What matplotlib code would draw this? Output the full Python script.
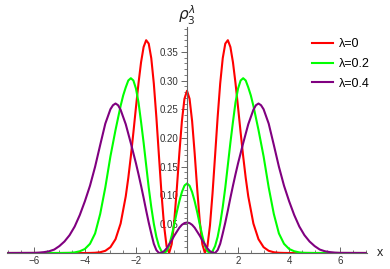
import matplotlib
matplotlib.use("Agg")
import matplotlib.pyplot as plt
from matplotlib.ticker import FixedLocator, MultipleLocator

# lambda = 0
x_red = [-7.0, -4.0, -3.8, -3.6, -3.4, -3.2, -3.0, -2.8, -2.6, -2.4, -2.3, -2.2, -2.1,
         -2.0, -1.9, -1.8, -1.7, -1.6, -1.5, -1.4, -1.3, -1.2, -1.1, -1.0, -0.9, -0.8,
         -0.7, -0.6, -0.5, -0.4, -0.3, -0.2, -0.1, 0.0, 0.1, 0.2, 0.3, 0.4, 0.5, 0.6,
         0.7, 0.8, 0.9, 1.0, 1.1, 1.2, 1.3, 1.4, 1.5, 1.6, 1.7, 1.8, 1.9, 2.0, 2.1,
         2.2, 2.3, 2.4, 2.6, 2.8, 3.0, 3.2, 3.4, 3.6, 3.8, 4.0, 7.0]
rho_red = [0.0, 0.0, 0.0001, 0.0004, 0.0013, 0.0038, 0.0101, 0.0240, 0.0513, 0.0984,
           0.1305, 0.1681, 0.2097, 0.2532, 0.2952, 0.3317, 0.3582, 0.3701, 0.3642,
           0.3389, 0.2948, 0.2362, 0.1696, 0.1038, 0.0482, 0.0117, 0.0001, 0.0154,
           0.0549, 0.1112, 0.1734, 0.2294, 0.2682, 0.2821, 0.2682, 0.2294, 0.1734,
           0.1112, 0.0549, 0.0154, 0.0001, 0.0117, 0.0482, 0.1038, 0.1696, 0.2362,
           0.2948, 0.3389, 0.3642, 0.3701, 0.3582, 0.3317, 0.2952, 0.2532, 0.2097,
           0.1681, 0.1305, 0.0984, 0.0513, 0.0240, 0.0101, 0.0038, 0.0013, 0.0004,
           0.0001, 0.0, 0.0]

# lambda = 0.2
x_green = [-7.0, -5.0, -4.6, -4.4, -4.2, -4.0, -3.8, -3.6, -3.4, -3.2, -3.0, -2.8, -2.6,
           -2.5, -2.4, -2.3, -2.2, -2.1, -2.0, -1.9, -1.8, -1.7, -1.6, -1.5, -1.4, -1.3,
           -1.2, -1.1, -1.0, -0.9, -0.8, -0.7, -0.6, -0.5, -0.4, -0.3, -0.2, -0.1, 0.0,
           0.1, 0.2, 0.3, 0.4, 0.5, 0.6, 0.7, 0.8, 0.9, 1.0, 1.1, 1.2, 1.3, 1.4, 1.5,
           1.6, 1.7, 1.8, 1.9, 2.0, 2.1, 2.2, 2.3, 2.4, 2.5, 2.6, 2.8, 3.0, 3.2, 3.4,
           3.6, 3.8, 4.0, 4.2, 4.4, 4.6, 5.0, 7.0]
rho_green = [0.0, 0.0, 0.0003, 0.001, 0.003, 0.007, 0.016, 0.034, 0.068, 0.114, 0.168,
             0.214, 0.256, 0.274, 0.288, 0.300, 0.304, 0.300, 0.286, 0.262, 0.228, 0.192,
             0.153, 0.114, 0.080, 0.051, 0.028, 0.012, 0.003, 0.0, 0.003, 0.013, 0.030,
             0.050, 0.071, 0.090, 0.106, 0.117, 0.121, 0.117, 0.106, 0.090, 0.071, 0.050,
             0.030, 0.013, 0.003, 0.0, 0.003, 0.012, 0.028, 0.051, 0.080, 0.114, 0.153,
             0.192, 0.228, 0.262, 0.286, 0.300, 0.304, 0.300, 0.288, 0.274, 0.256, 0.214,
             0.168, 0.114, 0.068, 0.034, 0.016, 0.007, 0.003, 0.001, 0.0003, 0.0, 0.0]

# lambda = 0.4
x_purple = [-7.0, -6.0, -5.8, -5.6, -5.4, -5.2, -5.0, -4.8, -4.6, -4.4, -4.2, -4.0, -3.8,
            -3.6, -3.4, -3.2, -3.0, -2.9, -2.8, -2.7, -2.6, -2.4, -2.2, -2.0, -1.9, -1.8,
            -1.7, -1.6, -1.5, -1.4, -1.3, -1.2, -1.1, -1.0, -0.9, -0.8, -0.7, -0.6, -0.5,
            -0.4, -0.3, -0.2, -0.1, 0.0, 0.1, 0.2, 0.3, 0.4, 0.5, 0.6, 0.7, 0.8, 0.9, 1.0,
            1.1, 1.2, 1.3, 1.4, 1.5, 1.6, 1.7, 1.8, 1.9, 2.0, 2.2, 2.4, 2.6, 2.7, 2.8, 2.9,
            3.0, 3.2, 3.4, 3.6, 3.8, 4.0, 4.2, 4.4, 4.6, 4.8, 5.0, 5.2, 5.4, 5.6, 5.8, 6.0,
            7.0]
rho_purple = [0.0, 0.0002, 0.0006, 0.0015, 0.003, 0.006, 0.012, 0.020, 0.031, 0.046,
              0.066, 0.090, 0.117, 0.150, 0.188, 0.225, 0.250, 0.257, 0.260, 0.257, 0.249,
              0.224, 0.191, 0.156, 0.137, 0.117, 0.096, 0.074, 0.053, 0.034, 0.016, 0.005,
              0.0, 0.0007, 0.003, 0.008, 0.015, 0.022, 0.030, 0.037, 0.044, 0.049, 0.052,
              0.053, 0.052, 0.049, 0.044, 0.037, 0.030, 0.022, 0.015, 0.008, 0.003, 0.0007,
              0.0, 0.005, 0.016, 0.034, 0.053, 0.074, 0.096, 0.117, 0.137, 0.156, 0.191,
              0.224, 0.249, 0.257, 0.260, 0.257, 0.250, 0.225, 0.188, 0.150, 0.117, 0.090,
              0.066, 0.046, 0.031, 0.020, 0.012, 0.006, 0.003, 0.0015, 0.0006, 0.0002, 0.0]

labels = ["λ=0", "λ=0.2", "λ=0.4"]
x_ticks = [-6, -4, -2, 2, 4, 6]
y_ticks = [0.05, 0.10, 0.15, 0.20, 0.25, 0.30, 0.35]

plt.rcParams["font.family"] = ["Liberation Sans", "DejaVu Sans"]

fig = plt.figure(figsize=(3.9, 2.69), dpi=100)
ax = fig.add_axes([0.018, 0.0595, 0.923, 0.840])

ax.plot(x_red, rho_red, color="#ff0000", lw=1.5, label=labels[0])
ax.plot(x_green, rho_green, color="#00ff00", lw=1.5, label=labels[1])
ax.plot(x_purple, rho_purple, color="#800080", lw=1.5, label=labels[2])

ax.set_xlim(-7.05, 7.05)
ax.set_ylim(0, 0.393)

axis_col = "#666666"
for s in ["top", "right"]:
    ax.spines[s].set_visible(False)
ax.spines["left"].set_position(("data", 0))
ax.spines["bottom"].set_position(("data", 0))
for s in ["left", "bottom"]:
    ax.spines[s].set_color(axis_col)
    ax.spines[s].set_linewidth(0.8)

ax.xaxis.set_major_locator(FixedLocator(x_ticks))
ax.xaxis.set_minor_locator(MultipleLocator(0.5))
ax.yaxis.set_major_locator(FixedLocator(y_ticks))
ax.yaxis.set_minor_locator(MultipleLocator(0.01))
ax.set_yticklabels(["%.2f" % v for v in y_ticks])

ax.tick_params(axis="x", which="major", direction="in", length=4, width=0.7,
               color=axis_col, labelsize=7, labelcolor="#333333", pad=2)
ax.tick_params(axis="x", which="minor", direction="in", length=2, width=0.6, color=axis_col)
ax.tick_params(axis="y", which="major", direction="out", length=4, width=0.7,
               color=axis_col, labelsize=7, labelcolor="#333333", pad=2)
ax.tick_params(axis="y", which="minor", direction="out", length=2, width=0.6, color=axis_col)

ax.text(0, 1.0, r"$\rho_3^\lambda$", transform=ax.get_xaxis_transform(),
        ha="center", va="bottom", fontsize=11, color="#222222")
ax.text(1.035, 0, "x", transform=ax.get_yaxis_transform(),
        ha="center", va="center", fontsize=9, color="#222222")

ax.legend(loc="upper right", bbox_to_anchor=(1.04, 1.0), frameon=False, fontsize=9,
          handlelength=1.7, handletextpad=0.5, labelspacing=0.62)

fig.savefig("out.png", dpi=100)
